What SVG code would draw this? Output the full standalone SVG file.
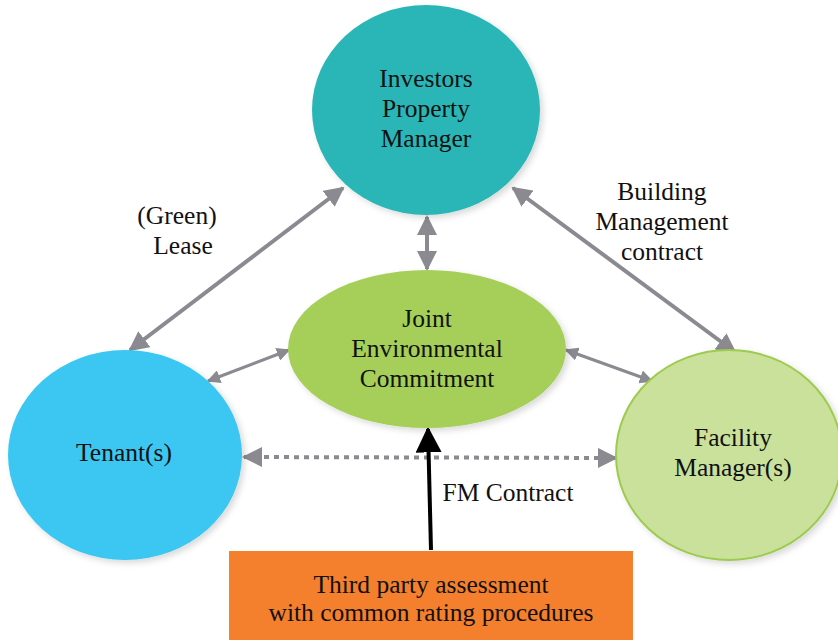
<svg xmlns="http://www.w3.org/2000/svg" width="838" height="640" viewBox="0 0 838 640">
<defs>
<style>
text{font-family:'Liberation Serif','Times New Roman',Times,serif;font-size:25.5px;fill:#111;text-anchor:middle}
.g{stroke:#8a8a90;stroke-width:4;fill:none}
.gs{stroke:#8a8a90;stroke-width:3;fill:none}
</style>
<marker id="ga" viewBox="0 0 10 10" refX="9" refY="5" markerWidth="5" markerHeight="5" orient="auto-start-reverse" markerUnits="strokeWidth"><path d="M0,0 L10,5 L0,10 z" fill="#8a8a90"/></marker>
<marker id="gb" viewBox="0 0 10 10" refX="9" refY="5" markerWidth="4.5" markerHeight="4.5" orient="auto-start-reverse" markerUnits="strokeWidth"><path d="M0,0 L10,5 L0,10 z" fill="#8a8a90"/></marker>
<marker id="ba" viewBox="0 0 10 10" refX="9" refY="5" markerWidth="6.5" markerHeight="6.5" orient="auto" markerUnits="strokeWidth"><path d="M0,0 L10,5 L0,10 z" fill="#000"/></marker>
<filter id="sh" x="-20%" y="-20%" width="140%" height="140%"><feDropShadow dx="3" dy="3" stdDeviation="3" flood-color="#000" flood-opacity="0.15"/></filter>
</defs>
<g id="connectors">
<line class="g" x1="130" y1="350" x2="343" y2="188" marker-start="url(#ga)" marker-end="url(#ga)"/>
<line class="g" x1="513" y1="188" x2="735" y2="352" marker-start="url(#ga)" marker-end="url(#ga)"/>
<line class="g" x1="427" y1="217" x2="427" y2="269" marker-start="url(#ga)" marker-end="url(#ga)"/>
<line class="gs" x1="208" y1="381" x2="289" y2="350" marker-start="url(#gb)" marker-end="url(#gb)"/>
<line class="gs" x1="566" y1="350" x2="652" y2="381" marker-start="url(#gb)" marker-end="url(#gb)"/>
<line class="g" x1="244" y1="457" x2="616" y2="458" stroke-dasharray="5,5" marker-start="url(#ga)" marker-end="url(#ga)"/>
<line x1="431" y1="550" x2="428" y2="429" stroke="#000" stroke-width="4" marker-end="url(#ba)"/>
</g>
<g id="investors">
<ellipse cx="426" cy="110" rx="114" ry="105" fill="#2cb6b6" filter="url(#sh)"/>
<text x="426" y="87">Investors</text>
<text x="426" y="117">Property</text>
<text x="426" y="147">Manager</text>
</g>
<g id="joint">
<ellipse cx="427" cy="349" rx="139" ry="79" fill="#a5cf58" filter="url(#sh)"/>
<text x="427" y="327">Joint</text>
<text x="427" y="357">Environmental</text>
<text x="427" y="387">Commitment</text>
</g>
<g id="tenant">
<ellipse cx="125" cy="455" rx="117" ry="105" fill="#3bc7f1" filter="url(#sh)"/>
<text x="124" y="461">Tenant(s)</text>
</g>
<g id="facility">
<ellipse cx="729" cy="455" rx="113" ry="105" fill="#c9e19b" stroke="#9dca4f" stroke-width="2" filter="url(#sh)"/>
<text x="733" y="446">Facility</text>
<text x="733" y="476">Manager(s)</text>
</g>
<g id="assessment">
<rect x="229" y="551" width="404" height="89" fill="#f47f2c"/>
<text x="431" y="593">Third party assessment</text>
<text x="431" y="621">with common rating procedures</text>
</g>
<g id="labels">
<text x="177" y="224">(Green)</text>
<text x="183" y="254">Lease</text>
<text x="662" y="200">Building</text>
<text x="662" y="230">Management</text>
<text x="662" y="260">contract</text>
<text x="508" y="501">FM Contract</text>
</g>
</svg>
